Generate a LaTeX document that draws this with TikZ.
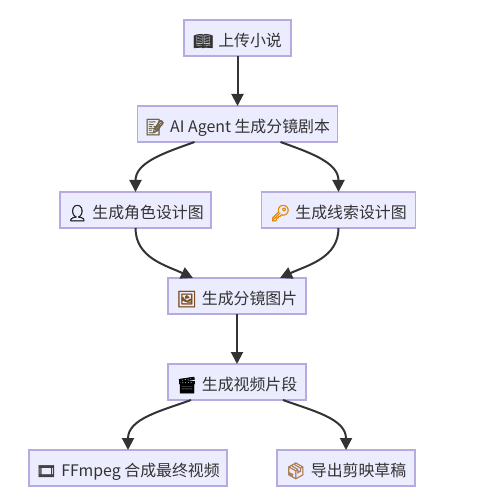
\documentclass[tikz,border=0pt]{standalone}
\usepackage{fontspec}
\usepackage{xcolor}
\usetikzlibrary{arrows.meta, positioning}
\setmainfont{Noto Sans CJK SC}
\newfontfamily\emojifont[FakeBold=2.5]{Noto Emoji}
\definecolor{boxfill}{RGB}{236,236,255}
\definecolor{boxline}{RGB}{183,170,224}
\definecolor{edgeink}{RGB}{51,51,51}
\definecolor{keygold}{RGB}{224,140,10}
\definecolor{frameink}{RGB}{124,78,30}
\definecolor{crateink}{RGB}{176,126,84}
\definecolor{memoink}{RGB}{110,100,70}
\newcommand{\icon}[2]{{\emojifont\color{#1}#2}\hspace{5pt}}

\begin{document}
\begin{tikzpicture}[
		x=1pt, y=-1pt,
		stage/.style={draw=boxline, fill=boxfill, line width=1.2pt, minimum height=36pt,
			inner sep=0pt, outer sep=0pt, align=center, text=edgeink, text height=19pt, text depth=2pt,
			font=\fontsize{15.9pt}{18pt}\selectfont},
		arrow/.style={-{Triangle[length=12pt, width=12pt]}, line width=2pt, draw=edgeink},
		node distance=50pt
	]
		\useasboundingbox (0,0) rectangle (502,502);
		\node[stage, minimum width=107pt] (upload) at (237.5,38) {\icon{black!80}{📖}上传小说};
		\node[stage, minimum width=200pt, below=of upload] (script) {\icon{memoink}{📝}AI Agent 生成分镜剧本};
		\node[stage, minimum width=151pt, below=of script, xshift=-102pt] (role) {\icon{black!85}{👤}生成角色设计图};
		\node[stage, minimum width=154pt, below=of script, xshift=101pt] (clue) {\icon{keygold}{🔑}生成线索设计图};
		\node[stage, minimum width=138pt, below=of role, xshift=101.5pt] (shot) {\icon{frameink}{🖼}生成分镜图片};
		\node[stage, minimum width=138pt, below=of shot] (clip) {\icon{black}{🎬}生成视频片段};
		\node[stage, minimum width=198pt, below=of clip, xshift=-109pt] (final) {\icon{black!75}{🎞}FFmpeg 合成最终视频};
		\node[stage, minimum width=138pt, below=of clip, xshift=109pt] (draft) {\icon{crateink}{📦}导出剪映草稿};
		\foreach \a/\b in {upload/script,shot/clip}
			\draw[arrow] (\a) -- (\b);
		\draw[arrow] ([xshift=57pt]script.south west) to[out=200, in=90] (role.north);
		\draw[arrow] ([xshift=-57pt]script.south east) to[out=-20, in=90] (clue.north);
		\draw[arrow] (role.south) to[out=-90, in=155] ([xshift=25pt]shot.north west);
		\draw[arrow] (clue.south) to[out=-90, in=25] ([xshift=-26pt]shot.north east);
		\draw[arrow] ([xshift=23pt]clip.south west) to[out=200, in=90] (final.north);
		\draw[arrow] ([xshift=-23pt]clip.south east) to[out=-20, in=90] (draft.north);
	\end{tikzpicture}
\end{document}
